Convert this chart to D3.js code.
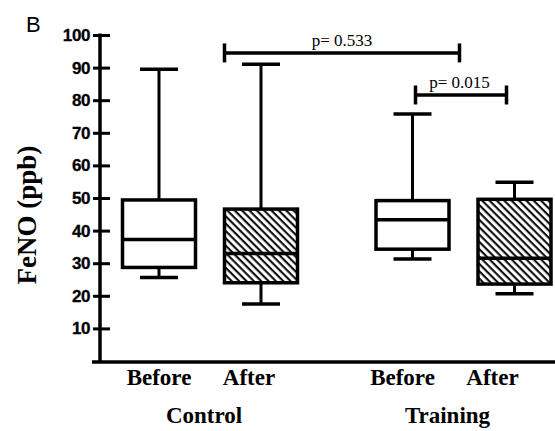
<!DOCTYPE html>
<html>
<head>
<meta charset="utf-8">
<script src="https://cdn.jsdelivr.net/npm/d3@7"></script>
<style>
  html, body { margin: 0; padding: 0; background: #fff; }
  svg { display: block; }
</style>
</head>
<body>
<svg id="chart" width="555" height="431"></svg>
<script>
// FeNO (ppb) before and after, for control and training groups
const groups = ["Control", "Training"];
const conditions = ["Before", "After"];
const boxGroup = ["Control", "Control", "Training", "Training"];
const boxCondition = ["Before", "After", "Before", "After"];
const minValues = [25.6, 17.5, 31.3, 20.6];
const q1Values = [28.7, 24.0, 34.3, 23.6];
const medianValues = [37.3, 33.0, 43.3, 31.5];
const q3Values = [49.4, 46.6, 49.2, 49.6];
const maxValues = [89.5, 91.0, 75.8, 54.8];
const yTicks = [10, 20, 30, 40, 50, 60, 70, 80, 90, 100];
const pLabels = ["p= 0.533", "p= 0.015"];
const pLevels = [94.5, 81.6];

const svg = d3.select("#chart");
const serif = "'Liberation Serif', 'Times New Roman', serif";
const sans = "'Liberation Sans', Arial, sans-serif";
const ink = "#000";

const y = d3.scaleLinear().domain([0, 100]).range([361, 35]);
const gx = d3.scalePoint().domain(groups).range([210, 463.5]);
const cx = d3.scalePoint().domain(conditions).range([-51, 51]);
const labelGx = d3.scalePoint().domain(groups).range([204, 447.5]);
const labelCx = d3.scalePoint().domain(conditions).range([-45, 45]);
const boxX = i => gx(boxGroup[i]) + cx(boxCondition[i]);
const boxW = 73, capW = 38;

// diagonal hatch for the "After" boxes
const defs = svg.append("defs");
const pat = defs.append("pattern")
  .attr("id", "hatch")
  .attr("patternUnits", "userSpaceOnUse")
  .attr("width", 5.2).attr("height", 5.2)
  .attr("patternTransform", "rotate(-45)");
pat.append("rect").attr("width", 5.2).attr("height", 5.2).attr("fill", "#fff");
pat.append("line")
  .attr("x1", 1.5).attr("y1", 0).attr("x2", 1.5).attr("y2", 5.2)
  .attr("stroke", ink).attr("stroke-width", 2);

// panel letter
svg.append("text")
  .attr("x", 26).attr("y", 32)
  .style("font-family", sans).style("font-size", "22px")
  .attr("fill", ink).text("B");

// y axis
const yAxis = d3.axisLeft(y).tickValues(yTicks).tickSize(0).tickPadding(10);
const yg = svg.append("g").attr("transform", "translate(100,0)").call(yAxis);
yg.select(".domain").remove();
yg.selectAll(".tick text")
  .style("font-family", sans).style("font-size", "17px").style("font-weight", "bold")
  .style("letter-spacing", "-0.4px")
  .attr("fill", ink).attr("stroke", ink).attr("stroke-width", 0.3);
yg.selectAll(".tick").append("line")
  .attr("x1", -7).attr("x2", 10)
  .attr("stroke", ink).attr("stroke-width", 3);
svg.append("line")
  .attr("x1", 100).attr("x2", 100)
  .attr("y1", y(100) - 1.5).attr("y2", y(0))
  .attr("stroke", ink).attr("stroke-width", 3.5);

// x baseline
svg.append("line")
  .attr("x1", 92).attr("x2", 555)
  .attr("y1", y(0) + 1).attr("y2", y(0) + 1)
  .attr("stroke", ink).attr("stroke-width", 3.5);

// y title
svg.append("text")
  .attr("transform", `translate(36,${(y(100) + y(0)) / 2 + 17}) rotate(-90)`)
  .attr("text-anchor", "middle")
  .style("font-family", serif).style("font-size", "27px").style("font-weight", "bold")
  .attr("fill", ink).text("FeNO (ppb)");

// boxes
const idx = d3.range(boxGroup.length);
const boxes = svg.append("g").selectAll("g").data(idx).join("g");
boxes.append("line")
  .attr("x1", boxX).attr("x2", boxX)
  .attr("y1", i => y(maxValues[i])).attr("y2", i => y(minValues[i]))
  .attr("stroke", ink).attr("stroke-width", 3);
[minValues, maxValues].forEach(vals => {
  boxes.append("line")
    .attr("x1", i => boxX(i) - capW / 2).attr("x2", i => boxX(i) + capW / 2)
    .attr("y1", i => y(vals[i])).attr("y2", i => y(vals[i]))
    .attr("stroke", ink).attr("stroke-width", 3.5);
});
boxes.append("rect")
  .attr("x", i => boxX(i) - boxW / 2).attr("width", boxW)
  .attr("y", i => y(q3Values[i])).attr("height", i => y(q1Values[i]) - y(q3Values[i]))
  .attr("fill", i => boxCondition[i] === "After" ? "url(#hatch)" : "#fff")
  .attr("stroke", ink).attr("stroke-width", 3.5);
boxes.append("line")
  .attr("x1", i => boxX(i) - boxW / 2).attr("x2", i => boxX(i) + boxW / 2)
  .attr("y1", i => y(medianValues[i])).attr("y2", i => y(medianValues[i]))
  .attr("stroke", ink).attr("stroke-width", 3.5);

// significance brackets
const brackets = [
  { x1: boxX(1) - boxW / 2, x2: boxX(2) + 47, level: pLevels[0], label: pLabels[0] },
  { x1: boxX(2) + 3, x2: boxX(3) - 8, level: pLevels[1], label: pLabels[1] }
];
const bg = svg.append("g").selectAll("g").data(brackets).join("g");
bg.append("line")
  .attr("x1", d => d.x1).attr("x2", d => d.x2)
  .attr("y1", d => y(d.level)).attr("y2", d => y(d.level))
  .attr("stroke", ink).attr("stroke-width", 3.5);
bg.selectAll("line.end").data(d => [d.x1, d.x2].map(x => ({ x, level: d.level })))
  .join("line").attr("class", "end")
  .attr("x1", e => e.x).attr("x2", e => e.x)
  .attr("y1", e => y(e.level) - 9.5).attr("y2", e => y(e.level) + 9.5)
  .attr("stroke", ink).attr("stroke-width", 3.5);
bg.append("text")
  .attr("x", (d, i) => i === 0 ? (d.x1 + d.x2) / 2 : (d.x1 + d.x2) / 2 - 1.5)
  .attr("y", d => y(d.level) - 7)
  .attr("text-anchor", "middle")
  .style("font-family", serif).style("font-size", "17px")
  .attr("fill", ink).text(d => d.label);

// category labels
svg.append("g").selectAll("text").data(idx).join("text")
  .attr("x", i => labelGx(boxGroup[i]) + labelCx(boxCondition[i]))
  .attr("y", 385)
  .attr("text-anchor", "middle")
  .style("font-family", serif).style("font-size", "23px").style("font-weight", "bold")
  .attr("fill", ink).text(i => boxCondition[i]);
svg.append("g").selectAll("text").data(groups).join("text")
  .attr("x", d => labelGx(d))
  .attr("y", 423)
  .attr("text-anchor", "middle")
  .style("font-family", serif).style("font-size", "23px").style("font-weight", "bold")
  .attr("fill", ink).text(d => d);
</script>
</body>
</html>
